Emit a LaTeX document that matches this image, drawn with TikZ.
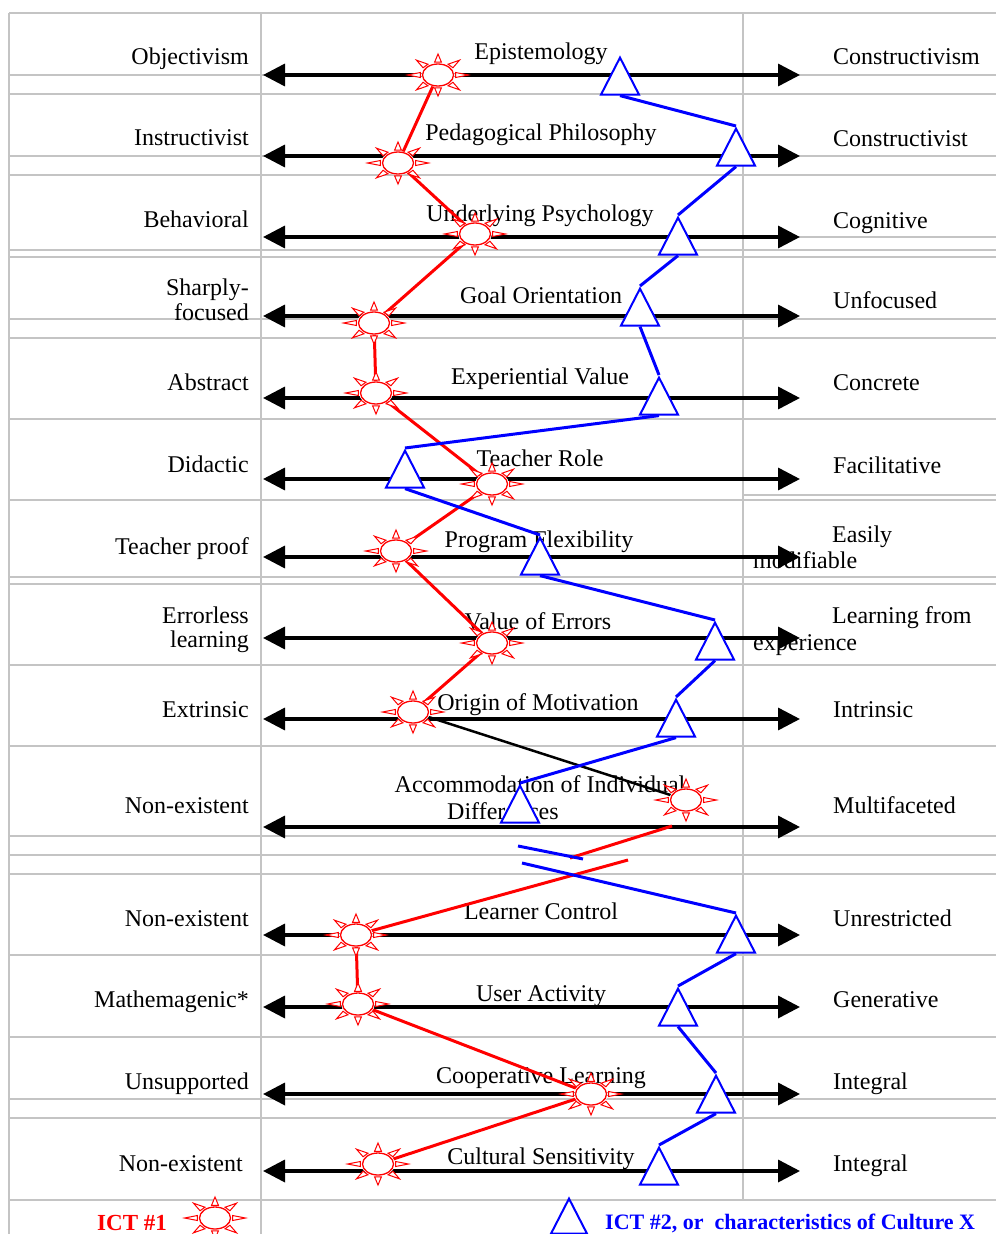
\documentclass[tikz,border=0pt]{standalone}
\usepackage{fontspec}
\setmainfont{Liberation Serif}
\usetikzlibrary{arrows.meta,shapes.geometric}
\definecolor{gridgray}{RGB}{196,196,196}
\definecolor{wred}{RGB}{255,0,0}
\definecolor{wblue}{RGB}{0,0,255}
\begin{document}
\begin{tikzpicture}[x=1pt,y=-1pt,
  gridline/.style={draw=gridgray, line width=1.2pt},
  axis/.style={line width=3.5pt, {Triangle[length=22pt,width=22pt]}-{Triangle[length=22pt,width=22pt]}},
  lab/.style={font=\fontsize{24}{28}\selectfont, inner sep=0pt},
  leftlab/.style={lab, anchor=base east},
  rightlab/.style={lab, anchor=base west},
  midlab/.style={lab, anchor=base},
  redline/.style={draw=wred, line width=3pt},
  blueline/.style={draw=wblue, line width=3pt},
  blackline/.style={draw=black, line width=2.5pt},
  tri/.style={isosceles triangle, isosceles triangle stretches, shape border rotate=90,
    minimum width=38pt, minimum height=37pt, inner sep=0pt, draw=wblue, fill=white,
    line width=2pt, anchor=apex},
  sun/.pic={
    \fill[white] (0,0) ellipse [x radius=17, y radius=12];
    \foreach \a in {0,45,...,315}{
      \draw[wred, line width=1pt, fill=white] ({18*cos(\a-11)},{13*sin(\a-11)}) -- ({30.5*cos(\a)},{21*sin(\a)}) -- ({18*cos(\a+11)},{13*sin(\a+11)}) -- cycle;
    }
    \draw[wred, line width=1.3pt] (0,0) ellipse [x radius=15.5, y radius=11];
  }
]
\useasboundingbox (0,0) rectangle (996,1234);
\clip (0,0) rectangle (996,1234);
\fill[white] (0,0) rectangle (996,1234);

% grid
\foreach \yy in {13,75,94,156,175,250,257,319,338,419,500,577,584,665,746,836,855,874,955,1037,1099,1118,1200}
  \draw[gridline] (9,\yy) -- (996,\yy);
\draw[gridline] (743,237) -- (996,237);
\draw[gridline] (743,495) -- (996,495);
\draw[gridline] (9,13) -- (9,1234);
\draw[gridline] (261,13) -- (261,1234);
\draw[gridline] (743,13) -- (743,1200);

% left labels
\node[leftlab] (l1) at (249,64) {Objectivism};
\node[leftlab] (l2) at (249,145) {Instructivist};
\node[leftlab] (l3) at (249,227) {Behavioral};
\node[leftlab] (l4a) at (249,295) {Sharply-};
\node[leftlab] (l4b) at (249,320) {focused};
\node[leftlab] (l5) at (249,390) {Abstract};
\node[leftlab] (l6) at (249,472) {Didactic};
\node[leftlab] (l7) at (249,554) {Teacher proof};
\node[leftlab] (l8a) at (249,623) {Errorless};
\node[leftlab] (l8b) at (249,647) {learning};
\node[leftlab] (l9) at (249,717) {Extrinsic};
\node[leftlab] (l10) at (249,813) {Non-existent};
\node[leftlab] (l11) at (249,926) {Non-existent};
\node[leftlab] (l12) at (249,1007) {Mathemagenic*};
\node[leftlab] (l13) at (249,1089) {Unsupported};
\node[leftlab] (l14) at (243,1171) {Non-existent};

% right labels
\node[rightlab] (r1) at (833,64) {Constructivism};
\node[rightlab] (r2) at (833,146) {Constructivist};
\node[rightlab] (r3) at (833,228) {Cognitive};
\node[rightlab] (r4) at (833,308) {Unfocused};
\node[rightlab] (r5) at (833,390) {Concrete};
\node[rightlab] (r6) at (833,473) {Facilitative};
\node[rightlab] (r7a) at (832,542) {Easily};
\node[rightlab] (r7b) at (753,568) {modifiable};
\node[rightlab] (r8a) at (832,623) {Learning from};
\node[rightlab] (r8b) at (753,650) {experience};
\node[rightlab] (r9) at (833,717) {Intrinsic};
\node[rightlab] (r10) at (833,813) {Multifaceted};
\node[rightlab] (r11) at (833,926) {Unrestricted};
\node[rightlab] (r12) at (833,1007) {Generative};
\node[rightlab] (r13) at (833,1089) {Integral};
\node[rightlab] (r14) at (833,1171) {Integral};

% middle labels
\node[midlab] (m1) at (541,59) {Epistemology};
\node[midlab] (m2) at (541,140) {Pedagogical Philosophy};
\node[midlab] (m3) at (540,221) {Underlying Psychology};
\node[midlab] (m4) at (541,303) {Goal Orientation};
\node[midlab] (m5) at (540,384) {Experiential Value};
\node[midlab] (m6) at (540,466) {Teacher Role};
\node[midlab] (m7) at (539,547) {Program Flexibility};
\node[midlab] (m8) at (538,629) {Value of Errors};
\node[midlab] (m9) at (538,710) {Origin of Motivation};
\node[midlab] (m10a) at (540,792) {Accommodation of Individual};
\node[lab, anchor=base west] (m10b) at (447,819) {Differences};
\node[midlab] (m11) at (541,919) {Learner Control};
\node[midlab] (m12) at (541,1001) {User Activity};
\node[midlab] (m13) at (541,1083) {Cooperative Learning};
\node[midlab] (m14) at (541,1164) {Cultural Sensitivity};

% axes
\foreach \yy/\n in {75/1,156/2,237/3,316/4,398/5,479/6,557/7,638/8,719/9,827/10,935/11,1007/12,1094/13,1171/14}{
  \coordinate (aL\n) at (263,\yy);
  \coordinate (aR\n) at (800,\yy);
  \draw[axis] (aL\n) -- (aR\n);
}

% red star positions
\coordinate (s1) at (438,75);
\coordinate (s2) at (398,163);
\coordinate (s3) at (475,234);
\coordinate (s4) at (374,323);
\coordinate (s5) at (376,393);
\coordinate (s6) at (492,484);
\coordinate (s7) at (396,551);
\coordinate (s8) at (492,643);
\coordinate (s9) at (413,712);
\coordinate (s10) at (686,800);
\coordinate (s11) at (356,935);
\coordinate (s12) at (358,1004);
\coordinate (s13) at (591,1094);
\coordinate (s14) at (378,1164);
\coordinate (rb1) at (570,858);
\coordinate (rb2) at (628,860);

% red connectors
\draw[redline] (s1) -- (s2) -- (s3) -- (s4) -- (s5) -- (s6) -- (s7) -- (s8) -- (s9);
\draw[blackline] (s9) -- (s10);
\coordinate (s10b) at (672,826);
\draw[redline] (s10b) -- (rb1);
\draw[redline] (rb2) -- (s11) -- (s12) -- (s13) -- (s14);

% red stars
\foreach \n in {1,...,14} \pic at (s\n) {sun};

% blue triangles
\node[tri] (t1) at (620,55) {};
\node[tri] (t2) at (736,126) {};
\node[tri] (t3) at (678,215) {};
\node[tri] (t4) at (640,286) {};
\node[tri] (t5) at (659,375) {};
\node[tri] (t6) at (405,448) {};
\node[tri] (t7) at (540,535) {};
\node[tri] (t8) at (715,620) {};
\node[tri] (t9) at (676,697) {};
\node[tri] (t10) at (520,783) {};
\node[tri] (t11) at (736,913) {};
\node[tri] (t12) at (678,986) {};
\node[tri] (t13) at (716,1073) {};
\node[tri] (t14) at (659,1145) {};

% blue connectors
\coordinate (bb1) at (518,846);
\coordinate (bb2) at (583,859);
\coordinate (bb3) at (522,863);
\foreach \a/\b in {1/2,2/3,3/4,4/5,5/6,6/7,7/8,8/9,9/10,11/12,12/13,13/14}
  \draw[blueline] (t\a.lower side) -- (t\b.apex);
\draw[blueline] (bb1) -- (bb2);
\draw[blueline] (bb3) -- (t11.apex);

% legend
\node[lab, anchor=base west, text=wred, font=\fontsize{23}{27}\selectfont\bfseries] (leg1) at (97,1230) {ICT \#1};
\coordinate (legs) at (215,1218);
\pic at (legs) {sun};
\node[tri, minimum width=36pt, minimum height=35pt] (legt) at (569,1196) {};
\node[lab, anchor=base west, text=wblue, font=\fontsize{22}{26}\selectfont\bfseries] (leg2) at (605,1229) {ICT \#2, or\ \ characteristics of Culture X};
\end{tikzpicture}
\end{document}
